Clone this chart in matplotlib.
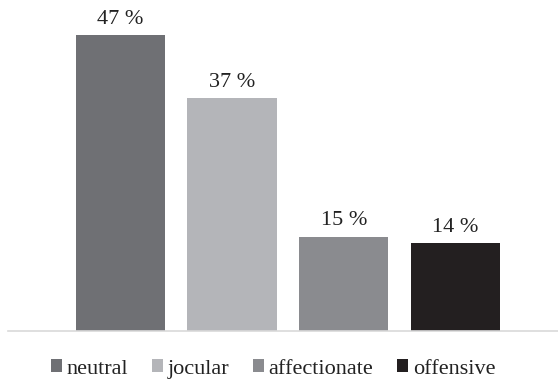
import matplotlib
matplotlib.use("Agg")
import matplotlib.pyplot as plt
from matplotlib.patches import Patch

categories = ["neutral", "jocular", "affectionate", "offensive"]
values = [47, 37, 15, 14]
labels = ["47 %", "37 %", "15 %", "14 %"]
colors = ["#6f7074", "#b4b5b9", "#8a8b8f", "#231f20"]

plt.rcParams['font.family'] = ['Liberation Serif', 'DejaVu Serif']

W, H = 558, 381
fig = plt.figure(figsize=(W/100, H/100), dpi=100)
ax = fig.add_axes([8/W, 50/H, 550/W, 326/H])
x = list(range(len(categories)))
ax.bar(x, values, width=0.8, color=colors)
ax.set_xlim(-1.007, 3.918)
ax.set_ylim(0, 326/6.3)
for xi, v, lab in zip(x, values, labels):
    ax.annotate(lab, (xi, v), xytext=(0, 4.5), textcoords="offset points",
                ha="center", va="bottom", fontsize=16, color="#222222")
for s in ["top", "right", "left"]:
    ax.spines[s].set_visible(False)
ax.spines["bottom"].set_color("#d9d9d9")
ax.spines["bottom"].set_linewidth(1.2)
ax.set_xticks([])
ax.set_yticks([])

handles = [Patch(facecolor=c, edgecolor="none") for c in colors]
fig.legend(handles, categories, loc="center", bbox_to_anchor=(273/W, 1-369/H),
           ncol=4, frameon=False, fontsize=16, handlelength=0.5, handleheight=0.5,
           handletextpad=0.22, columnspacing=1.05, labelcolor="#222222")
fig.savefig("out.png", dpi=100)
